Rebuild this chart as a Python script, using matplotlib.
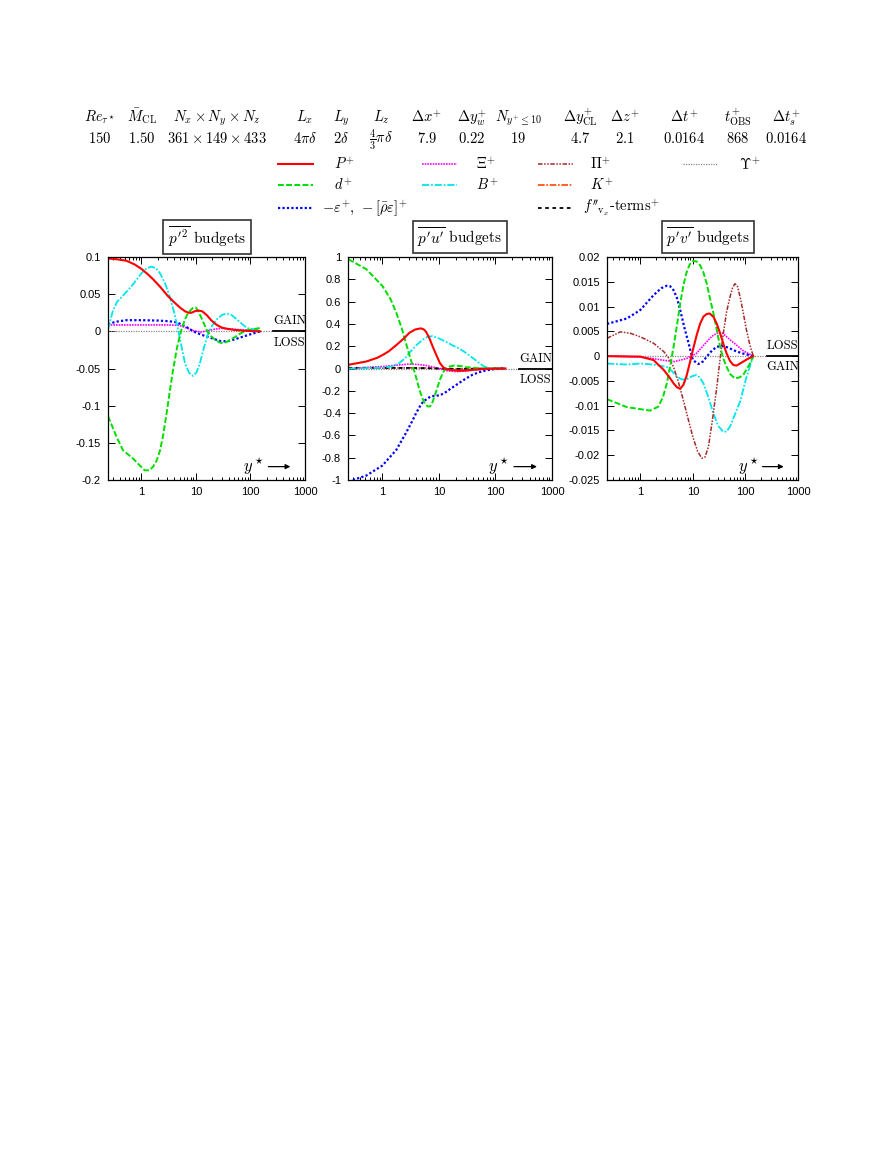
import numpy as np
import matplotlib.pyplot as plt
from matplotlib.lines import Line2D
import matplotlib.transforms as mtransforms

plt.rcParams['mathtext.fontset'] = 'cm'
plt.rcParams['font.family'] = ['Liberation Sans', 'DejaVu Sans']

# table above the panels
tab_head = [r'$Re_{\tau^\star}$', r'$\bar{M}_{\mathrm{CL}}$', r'$N_x\times N_y\times N_z$',
            r'$L_x$', r'$L_y$', r'$L_z$', r'$\Delta x^{\!+}$', r'$\Delta y^{\!+}_w$',
            r'$N_{y^{\!+}\!\leq 10}$', r'$\Delta y^{\!+}_{\mathrm{CL}}$', r'$\Delta z^{\!+}$',
            r'$\Delta t^{\!+}$', r'$t^{\!+}_{\mathrm{OBS}}$', r'$\Delta t^{\!+}_s$']
tab_vals = [r'$150$', r'$1.50$', r'$361\times 149\times 433$', r'$4\pi\delta$',
            r'$2\delta$', r'$\frac{4}{3}\pi\delta$', r'$7.9$', r'$0.22$', r'$19$',
            r'$4.7$', r'$2.1$', r'$0.0164$', r'$868$', r'$0.0164$']
tab_x = [100, 142, 217, 305, 341, 381, 427, 472, 518, 580, 625, 684, 738, 786]

# ---- panel 1 : p'^2 budgets ----
p1_P_x = [0.244, 0.35, 0.53, 0.75, 1, 1.3, 1.64, 2.2, 3.1, 4.0, 5.1, 6.3, 7.3, 8.3, 9.5, 11, 13, 15.7, 19, 24, 30, 36.6, 50, 74, 110, 150]
p1_P_y = [0.098, 0.097, 0.095, 0.090, 0.084, 0.077, 0.070, 0.060, 0.047, 0.039, 0.032, 0.027, 0.025, 0.025, 0.027, 0.028, 0.027, 0.022, 0.015, 0.0086, 0.005, 0.0035, 0.002, 0.0009, 0.0003, 0.0]
p1_d_x = [0.244, 0.3, 0.35, 0.46, 0.7, 0.95, 1.15, 1.4, 1.64, 1.9, 2.2, 2.5, 2.9, 3.3, 3.8, 4.5, 5.4, 6.3, 7.2, 8.9, 10, 11, 13, 15.7, 18.5, 22.4, 27, 31.8, 40, 48.6, 65, 86, 150]
p1_d_y = [-0.114, -0.130, -0.142, -0.160, -0.171, -0.181, -0.187, -0.187, -0.182, -0.174, -0.160, -0.140, -0.110, -0.082, -0.052, -0.022, 0.002, 0.016, 0.025, 0.032, 0.032, 0.027, 0.016, 0.002, -0.006, -0.011, -0.015, -0.016, -0.013, -0.009, -0.003, 0.0014, 0.0045]
p1_e_x = [0.244, 0.35, 0.53, 1, 2, 3.3, 4.5, 5.5, 7, 8.9, 12, 15.7, 21, 27.6, 36.6, 50, 74, 110, 150]
p1_e_y = [0.010, 0.013, 0.015, 0.015, 0.0145, 0.0135, 0.012, 0.009, 0.005, 0.0, -0.004, -0.007, -0.010, -0.013, -0.0135, -0.011, -0.007, -0.003, 0.0]
p1_X_x = [0.244, 1, 3, 5, 7, 9, 12, 16, 22, 30, 45, 70, 110, 150]
p1_X_y = [0.0086, 0.0086, 0.0086, 0.008, 0.004, 0.001, -0.001, 0.0005, 0.003, 0.004, 0.003, 0.002, 0.0008, 0.0]
p1_B_x = [0.244, 0.27, 0.3, 0.36, 0.46, 0.7, 1, 1.25, 1.53, 1.85, 2.2, 2.7, 3.3, 4.0, 4.7, 5.5, 6.3, 7.5, 8.9, 10.3, 11.8, 14, 16.9, 20, 24, 30, 36.6, 45, 56, 70, 86, 110, 150]
p1_B_y = [0.002, 0.015, 0.028, 0.040, 0.048, 0.063, 0.078, 0.085, 0.087, 0.085, 0.078, 0.065, 0.047, 0.025, 0.002, -0.022, -0.043, -0.056, -0.060, -0.055, -0.043, -0.022, -0.002, 0.008, 0.016, 0.022, 0.024, 0.022, 0.016, 0.010, 0.0045, 0.003, 0.002]

# ---- panel 2 : p'u' budgets ----
p2_P_x = [0.25, 0.52, 0.8, 1, 1.3, 1.76, 2.4, 3, 3.8, 4.8, 5.4, 5.9, 6.8, 7.7, 9, 10.4, 12, 13.3, 17, 22.7, 30, 39, 66.7, 150]
p2_P_y = [0.033, 0.063, 0.095, 0.12, 0.155, 0.21, 0.27, 0.32, 0.35, 0.36, 0.35, 0.33, 0.27, 0.20, 0.12, 0.048, 0.01, -0.006, -0.015, -0.02, -0.018, -0.012, -0.003, 0.0]
p2_d_x = [0.25, 0.52, 1, 1.4, 1.76, 2.2, 2.6, 3.0, 3.45, 4.0, 4.5, 5.4, 6.3, 7.0, 7.7, 9, 10.4, 12, 13.3, 15.5, 18.6, 24, 29.7, 45, 66.7, 150]
p2_d_y = [0.98, 0.89, 0.74, 0.62, 0.50, 0.36, 0.23, 0.12, 0.02, -0.09, -0.19, -0.30, -0.34, -0.34, -0.30, -0.20, -0.10, -0.03, 0.0, 0.018, 0.027, 0.022, 0.012, 0.004, 0.0, 0.0]
p2_e_x = [0.3, 0.52, 1, 1.76, 2.6, 3.3, 3.95, 4.6, 5.2, 6.2, 7.2, 8.7, 10.4, 12.5, 15.2, 18.5, 22.7, 30, 39, 50, 66.7, 90, 114, 150]
p2_e_y = [-1.0, -0.96, -0.87, -0.73, -0.58, -0.48, -0.40, -0.34, -0.30, -0.27, -0.25, -0.245, -0.24, -0.22, -0.19, -0.16, -0.13, -0.09, -0.057, -0.035, -0.018, -0.007, -0.002, 0.0]
p2_X_x = [0.25, 1, 2, 3, 4.5, 6, 8, 10.4, 14, 20, 30, 45, 66.7, 150]
p2_X_y = [0.0, 0.018, 0.032, 0.04, 0.035, 0.027, 0.012, -0.003, -0.02, -0.028, -0.022, -0.012, -0.003, 0.0]
p2_B_x = [0.25, 1, 1.5, 2, 2.5, 3, 4, 5.2, 6.3, 7.7, 10, 13.3, 17, 22.7, 28, 34, 42, 51, 62, 76, 100, 150]
p2_B_y = [0.0, 0.006, 0.02, 0.05, 0.09, 0.14, 0.21, 0.26, 0.285, 0.29, 0.27, 0.24, 0.21, 0.18, 0.15, 0.12, 0.085, 0.05, 0.02, 0.003, -0.005, -0.006]
p2_Pi_x = [0.25, 1, 3, 6, 10, 20, 40, 150]
p2_Pi_y = [0.0, 0.003, 0.006, 0.004, 0.0, -0.004, -0.003, 0.0]
p2_f_x = [0.25, 1, 3, 6, 10, 20, 40, 80, 150]
p2_f_y = [0.006, 0.006, 0.005, 0.003, 0.0, -0.003, -0.002, 0.0, 0.0]

# ---- panel 3 : p'v' budgets ----
p3_P_x = [0.233, 1, 1.79, 2.8, 3.6, 4.3, 5.0, 5.75, 6.6, 7.5, 8.7, 10, 11.8, 13.8, 16, 18.4, 21, 24.7, 28.6, 33, 38, 44, 51, 59, 68, 79, 105, 141]
p3_P_y = [0.0, -0.0001, -0.0008, -0.0028, -0.0043, -0.0055, -0.0063, -0.0066, -0.0058, -0.0042, -0.0015, 0.0012, 0.0042, 0.0066, 0.0080, 0.0085, 0.0086, 0.0079, 0.0065, 0.0046, 0.0025, 0.0005, -0.001, -0.0018, -0.0019, -0.0015, -0.0007, 0.0]
p3_d_x = [0.233, 0.56, 1, 1.55, 2.2, 2.7, 3.2, 3.7, 4.3, 5.0, 5.75, 6.6, 7.5, 8.7, 10, 11.8, 13.8, 16, 18.4, 21, 24.7, 28.6, 33, 38, 44, 51, 63, 77, 91, 122, 141]
p3_d_y = [-0.0087, -0.0103, -0.0107, -0.011, -0.0102, -0.0083, -0.0055, -0.0020, 0.0019, 0.0063, 0.0106, 0.0142, 0.0167, 0.0185, 0.0192, 0.0191, 0.0183, 0.0168, 0.0146, 0.0118, 0.0086, 0.0052, 0.0019, -0.0005, -0.0022, -0.0036, -0.0045, -0.0043, -0.0038, -0.0015, 0.0]
p3_e_x = [0.233, 0.56, 1, 1.79, 2.5, 3.2, 3.7, 4.3, 5.0, 5.75, 7, 8.3, 10, 12.8, 15.5, 18.4, 23, 28.6, 38, 48, 59, 75, 91, 141]
p3_e_y = [0.0065, 0.0076, 0.0093, 0.0123, 0.0137, 0.0142, 0.0141, 0.0133, 0.0117, 0.0093, 0.0055, 0.0026, -0.0008, -0.0016, -0.0011, -0.0001, 0.0011, 0.0019, 0.002, 0.0017, 0.0012, 0.0008, 0.0005, 0.0]
p3_X_x = [0.233, 1, 1.79, 3, 4.5, 7.5, 11.6, 18.4, 23, 28.6, 36, 44, 55, 68, 90, 141]
p3_X_y = [0.0, -0.0002, -0.0005, -0.0009, -0.0011, -0.0005, 0.0005, 0.0029, 0.0040, 0.0046, 0.0047, 0.0039, 0.003, 0.0022, 0.0011, 0.0]
p3_B_x = [0.233, 0.56, 1, 1.79, 3.2, 4.0, 4.97, 6.2, 7.5, 9.5, 11.6, 13.5, 15.9, 19, 24.7, 30, 38, 44, 51, 63, 79, 92, 105, 141]
p3_B_y = [-0.0015, -0.0017, -0.0015, -0.0017, -0.0022, -0.003, -0.0042, -0.0047, -0.0047, -0.0041, -0.0038, -0.0043, -0.0055, -0.0078, -0.0116, -0.0140, -0.0153, -0.0152, -0.0142, -0.0118, -0.0092, -0.0065, -0.0042, 0.0]
p3_Pi_x = [0.233, 0.42, 0.65, 1, 1.79, 2.8, 3.6, 4.3, 5.3, 6.6, 8.2, 10, 12.3, 14.8, 17, 19.8, 23.5, 28.6, 33, 38, 44, 51, 57, 63, 70, 79, 90, 105, 122, 141]
p3_Pi_y = [0.0036, 0.0049, 0.0046, 0.0039, 0.0026, 0.0009, -0.0006, -0.0022, -0.0052, -0.0089, -0.0128, -0.0163, -0.0192, -0.0206, -0.0204, -0.0183, -0.0130, -0.0062, -0.0005, 0.0046, 0.0090, 0.0120, 0.0138, 0.0146, 0.0142, 0.0120, 0.0090, 0.0052, 0.0022, 0.0]

panels = [
    {'title': r"$\overline{p'^2}$", 'ylim': (-0.2, 0.1), 'xmin': 0.244,
     'yticks': [0.1, 0.05, 0, -0.05, -0.1, -0.15, -0.2],
     'ylabels': ['0.1', '0.05', '0', '-0.05', '-0.1', '-0.15', '-0.2'],
     'top': 'GAIN', 'bot': 'LOSS',
     'series': [('X', p1_X_x, p1_X_y), ('e', p1_e_x, p1_e_y), ('B', p1_B_x, p1_B_y),
                ('d', p1_d_x, p1_d_y), ('P', p1_P_x, p1_P_y)]},
    {'title': r"$\overline{p'u'}$", 'ylim': (-1, 1), 'xmin': 0.246,
     'yticks': [1, 0.8, 0.6, 0.4, 0.2, 0, -0.2, -0.4, -0.6, -0.8, -1],
     'ylabels': ['1', '0.8', '0.6', '0.4', '0.2', '0', '-0.2', '-0.4', '-0.6', '-0.8', '-1'],
     'top': 'GAIN', 'bot': 'LOSS',
     'series': [('Pi', p2_Pi_x, p2_Pi_y), ('X', p2_X_x, p2_X_y), ('f', p2_f_x, p2_f_y),
                ('B', p2_B_x, p2_B_y), ('e', p2_e_x, p2_e_y), ('d', p2_d_x, p2_d_y),
                ('P', p2_P_x, p2_P_y)]},
    {'title': r"$\overline{p'v'}$", 'ylim': (-0.025, 0.02), 'xmin': 0.233,
     'yticks': [0.02, 0.015, 0.01, 0.005, 0, -0.005, -0.01, -0.015, -0.02, -0.025],
     'ylabels': ['0.02', '0.015', '0.01', '0.005', '0', '-0.005', '-0.01', '-0.015', '-0.02', '-0.025'],
     'top': 'LOSS', 'bot': 'GAIN',
     'series': [('X', p3_X_x, p3_X_y), ('B', p3_B_x, p3_B_y), ('Pi', p3_Pi_x, p3_Pi_y),
                ('e', p3_e_x, p3_e_y), ('d', p3_d_x, p3_d_y), ('P', p3_P_x, p3_P_y)]},
]

styles = {
    'P': dict(color='#ff0000', ls='-', lw=1.5),
    'd': dict(color='#00dd00', ls=(0, (3, 1.2)), lw=1.4),
    'e': dict(color='#0000ff', ls=(0, (1, 1)), lw=1.6),
    'X': dict(color='#ff00ff', ls=(0, (1, 0.6)), lw=1.2),
    'B': dict(color='#00e5ee', ls=(0, (4, 1, 1, 1)), lw=1.3),
    'Pi': dict(color='#a52a2a', ls=(0, (3, 1, 1, 1, 1, 1)), lw=1.1),
    'K': dict(color='#ff4500', ls=(0, (4, 1, 1, 1)), lw=1.2),
    'f': dict(color='#000000', ls=(0, (2, 2)), lw=1.3),
    'U': dict(color='#888888', ls=(0, (1, 1)), lw=0.9),
}
leg_labels = {'P': r'$P^{\!+}$', 'd': r'$d^{\!+}$',
              'e': r'$-\varepsilon^{\!+}\!,\,-[\bar{\rho}\varepsilon]^{\!+}$',
              'X': r'$\Xi^{\!+}$', 'B': r'$B^{\!+}$', 'Pi': r'$\Pi^{\!+}$', 'K': r'$K^{\!+}$',
              'f': r"$f''_{\!\mathrm{v}_x}$-terms$^{\!+}$", 'U': r'$\Upsilon^{\!+}$'}

W, H = 891, 1152
fig = plt.figure(figsize=(W / 100, H / 100), dpi=100)

# table (baseline aligned rows)
for hx, h, v in zip(tab_x, tab_head, tab_vals):
    fig.text(hx / W, 1 - 122 / H, h, ha='center', va='baseline', fontsize=10.5)
    fig.text(hx / W, 1 - 143 / H, v, ha='center', va='baseline', fontsize=10.5)

# legend drawn by hand (3 rows, 4 columns)
leg_items = [('P', 0, 0, 334), ('d', 0, 1, 334), ('e', 0, 2, 322),
             ('X', 1, 0, 476), ('B', 1, 1, 476),
             ('Pi', 2, 0, 590), ('K', 2, 1, 590), ('f', 2, 2, 583),
             ('U', 3, 0, 739)]
col_x = [(278, 313), (422, 457), (538, 573), (683, 717)]
row_y = [164, 185, 208]
for key, c, r, lx in leg_items:
    x0, x1 = col_x[c]
    y = 1 - row_y[r] / H
    fig.add_artist(Line2D([x0 / W, x1 / W], [y, y], transform=fig.transFigure, **styles[key]))
    fig.text(lx / W, y, leg_labels[key], ha='left', va='center', fontsize=10.5, fontfamily='cmr10')

boxes = [(108, 305, 207), (348, 552, 460), (607, 798, 708)]
for p, (l, r, tc) in zip(panels, boxes):
    ax = fig.add_axes([l / W, 1 - 480 / H, (r - l) / W, 223 / H])
    ax.set_xscale('log')
    ax.set_xlim(p['xmin'], 1000)
    ax.set_ylim(*p['ylim'])
    ax.set_yticks(p['yticks'])
    ax.set_yticklabels(p['ylabels'])
    ax.set_xticks([1, 10, 100, 1000])
    ax.set_xticklabels(['1', '10', '100', '1000'])
    ax.tick_params(which='both', direction='in', top=True, right=True, labelsize=8, width=0.7)
    ax.tick_params(which='major', length=5, pad=5)
    ax.tick_params(which='minor', length=2.5)
    for s in ax.spines.values():
        s.set_linewidth(0.9)
    trans = mtransforms.blended_transform_factory(ax.transAxes, ax.transData)
    ax.plot([0, 0.84], [0, 0], transform=trans, **styles['U'])
    ax.plot([0.84, 1.0], [0, 0], transform=trans, color='black', lw=1.3)
    span = p['ylim'][1] - p['ylim'][0]
    ax.text(0.92, 0.045 * span, p['top'], transform=trans, ha='center', va='center',
            fontsize=9, fontfamily='cmr10')
    ax.text(0.92, -0.05 * span, p['bot'], transform=trans, ha='center', va='center',
            fontsize=9, fontfamily='cmr10')
    for key, xs, ys in p['series']:
        ax.plot(xs, ys, **styles[key])
    ax.text(0.74, 0.06, r'$y^\star$', transform=ax.transAxes, ha='center', va='center', fontsize=12)
    ax.annotate('', xy=(0.94, 0.06), xytext=(0.80, 0.06), xycoords='axes fraction',
                arrowprops=dict(arrowstyle='-|>', color='black', lw=0.9, mutation_scale=7))
    fig.text(tc / W, 1 - 237 / H, p['title'] + ' budgets', ha='center', va='center',
             fontsize=11, fontfamily='cmr10',
             bbox=dict(boxstyle='square,pad=0.3', fc='white', ec='#333333', lw=1.2))

fig.savefig('out.png', dpi=100)
